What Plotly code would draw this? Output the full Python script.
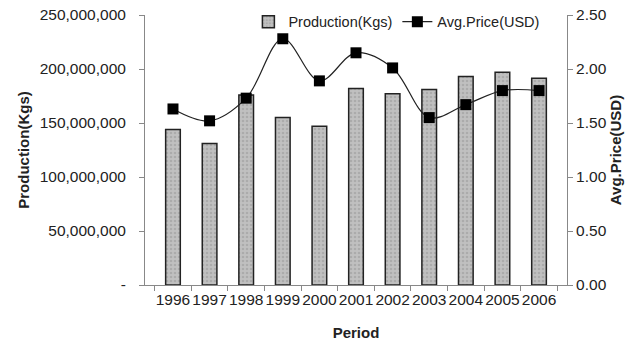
import plotly.graph_objects as go

years = ["1996", "1997", "1998", "1999", "2000", "2001", "2002", "2003", "2004", "2005", "2006"]
production = [144e6, 131e6, 176e6, 155e6, 147e6, 182e6, 177e6, 181e6, 193e6, 197e6, 191.5e6]
price = [1.63, 1.52, 1.73, 2.28, 1.89, 2.15, 2.01, 1.55, 1.67, 1.80, 1.80]

left_ticks = [0, 50e6, 100e6, 150e6, 200e6, 250e6]
left_labels = ["-", "50,000,000", "100,000,000", "150,000,000", "200,000,000", "250,000,000"]
right_ticks = [0, 0.5, 1.0, 1.5, 2.0, 2.5]
right_labels = ["0.00", "0.50", "1.00", "1.50", "2.00", "2.50"]

font_family = "Liberation Sans, Arial, sans-serif"

fig = go.Figure()
fig.add_trace(go.Bar(
    x=years, y=production, name="Production(Kgs)",
    width=0.4,
    marker=dict(color="#b4b4b4", line=dict(color="#222222", width=1.5),
                pattern=dict(shape=".", fgcolor="#959595", bgcolor="#c0c0c0", size=4, solidity=0.35)),
))
fig.add_trace(go.Scatter(
    x=years, y=price, name="Avg.Price(USD)", yaxis="y2",
    mode="lines+markers",
    line=dict(color="#222222", width=1.2, shape="spline", smoothing=1.0),
    marker=dict(symbol="square", size=11, color="#000000"),
))

axis_font = dict(family=font_family, size=15.5, color="#222222")
title_font = dict(family=font_family, size=15, color="#222222")

fig.update_layout(
    width=639, height=345,
    margin=dict(l=145, r=72, t=15, b=60, autoexpand=False),
    paper_bgcolor="white", plot_bgcolor="white",
    showlegend=True,
    legend=dict(orientation="h", x=0.245, y=0.975, xanchor="left", yanchor="middle",
                font=dict(family=font_family, size=14.5, color="#222222"),
                bgcolor="rgba(0,0,0,0)", traceorder="normal", itemwidth=30),
    xaxis=dict(
        type="category", showline=True, linecolor="#888888", linewidth=1,
        ticks="outside", ticklen=5, tickcolor="#888888", tickson="boundaries",
        tickfont=axis_font, tickangle=0, showgrid=False, automargin=False,
        title=dict(text="<b>Period</b>", font=title_font, standoff=20),
    ),
    yaxis=dict(
        range=[0, 250e6], tickvals=left_ticks, ticktext=left_labels,
        showline=True, linecolor="#888888", linewidth=1,
        ticks="outside", ticklen=5, tickcolor="#888888", automargin=False,
        ticklabelstandoff=10,
        tickfont=axis_font, showgrid=False, zeroline=False,
        title=dict(text="<b>Production(Kgs)</b>", font=title_font, standoff=6),
    ),
    yaxis2=dict(
        range=[0, 2.5], tickvals=right_ticks, ticktext=right_labels,
        overlaying="y", side="right", automargin=False,
        showline=True, linecolor="#888888", linewidth=1,
        ticks="outside", ticklen=5, tickcolor="#888888",
        tickfont=axis_font, showgrid=False, zeroline=False,
        title=dict(text="<b>Avg.Price(USD)</b>", font=title_font, standoff=2),
    ),
)

fig.write_html("out.html", config={"displayModeBar": False},
               post_script="document.body.style.margin='0';")
